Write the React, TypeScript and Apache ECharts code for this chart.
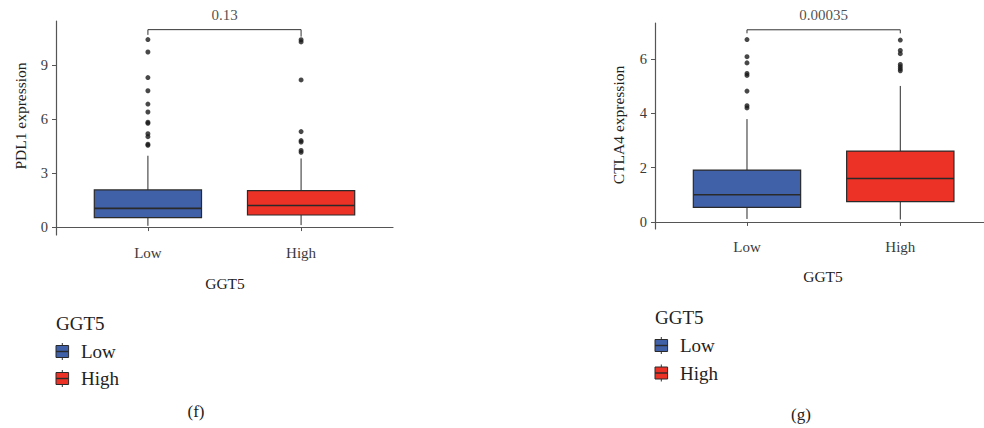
import React, { useEffect, useRef } from "react";
import * as echarts from "echarts";

// ---------- data ----------
const groups = ["Low", "High"];
const legendTitle = "GGT5";

// PDL1 panel (f): [min, Q1, median, Q3, max] per group
const pdl1Stats = [
  [0.07, 0.52, 1.04, 2.06, 3.96],
  [0.11, 0.67, 1.2, 2.02, 3.81],
];
const pdl1OutliersLow = [10.41, 9.72, 8.3, 7.57, 6.83, 6.39, 5.82, 5.76, 5.18, 5.02, 4.6, 4.54];
const pdl1OutliersHigh = [10.4, 10.28, 8.17, 5.3, 4.8, 4.72, 4.25, 4.15];
const pdl1PValue = "0.13";
const pdl1YTicks = [0, 3, 6, 9];

// CTLA4 panel (g)
const ctla4Stats = [
  [0.11, 0.54, 1.0, 1.91, 3.79],
  [0.09, 0.75, 1.6, 2.61, 5.01],
];
const ctla4OutliersLow = [6.72, 6.09, 5.86, 5.47, 5.4, 4.82, 4.28, 4.2];
const ctla4OutliersHigh = [6.7, 6.32, 6.2, 5.8, 5.72, 5.64, 5.57];
const ctla4PValue = "0.00035";
const ctla4YTicks = [0, 2, 4, 6];

const COLORS = ["#4060A8", "#EC3126"];
const FONT = "'Liberation Serif', 'Times New Roman', serif";
const AXIS_COLOR = "#555555";
const TEXT_COLOR = "#3a3a3a";
const BOX_STROKE = "#2a2a2a";

function boxRender(params: any, api: any) {
  const x = api.value(0);
  const w = api.size([1, 0])[0] * 0.7;
  const pMin = api.coord([x, api.value(1)]);
  const pQ1 = api.coord([x, api.value(2)]);
  const pMed = api.coord([x, api.value(3)]);
  const pQ3 = api.coord([x, api.value(4)]);
  const pMax = api.coord([x, api.value(5)]);
  const color = COLORS[params.dataIndex];
  return {
    type: "group",
    children: [
      { type: "line", shape: { x1: pMin[0], y1: pMin[1], x2: pQ1[0], y2: pQ1[1] }, style: { stroke: BOX_STROKE, lineWidth: 1 } },
      { type: "line", shape: { x1: pQ3[0], y1: pQ3[1], x2: pMax[0], y2: pMax[1] }, style: { stroke: BOX_STROKE, lineWidth: 1 } },
      {
        type: "rect",
        shape: { x: pQ3[0] - w / 2, y: pQ3[1], width: w, height: pQ1[1] - pQ3[1] },
        style: { fill: color, stroke: BOX_STROKE, lineWidth: 1.2 },
      },
      {
        type: "line",
        shape: { x1: pMed[0] - w / 2, y1: pMed[1], x2: pMed[0] + w / 2, y2: pMed[1] },
        style: { stroke: BOX_STROKE, lineWidth: 1.6 },
      },
    ],
  };
}

function panelSeries(
  gi: number,
  stats: number[][],
  outLow: number[],
  outHigh: number[],
  bracketTop: number,
  legL: number,
  legR: number,
  pval: string
) {
  return [
    {
      type: "custom",
      xAxisIndex: gi,
      yAxisIndex: gi,
      renderItem: boxRender,
      encode: { x: 0, y: [1, 2, 3, 4, 5] },
      data: stats.map((s, i) => [i + 1, ...s]),
      z: 2,
    },
    {
      type: "scatter",
      xAxisIndex: gi,
      yAxisIndex: gi,
      symbolSize: 5,
      itemStyle: { color: "#1a1a1a" },
      data: [...outLow.map((v) => [1, v]), ...outHigh.map((v) => [2, v])],
      z: 3,
    },
    {
      type: "line",
      xAxisIndex: gi,
      yAxisIndex: gi,
      symbol: "none",
      lineStyle: { color: "#333", width: 1 },
      data: [
        [1, legL],
        [1, bracketTop],
        [2, bracketTop],
        [2, legR],
      ],
      z: 3,
    },
    {
      type: "scatter",
      xAxisIndex: gi,
      yAxisIndex: gi,
      symbolSize: 0,
      data: [[1.5, bracketTop]],
      label: {
        show: true,
        position: "top",
        distance: 7,
        formatter: pval,
        fontFamily: FONT,
        fontSize: 15,
        color: "#222",
      },
      z: 3,
    },
  ];
}

function xAxisFor(gi: number, max: number) {
  return {
    type: "value",
    gridIndex: gi,
    min: 0.4,
    max,
    splitLine: { show: false },
    axisLine: { show: true, lineStyle: { color: AXIS_COLOR, width: 1.2 } },
    axisTick: { show: true, length: 4, customValues: [1, 2], lineStyle: { color: AXIS_COLOR } },
    axisLabel: {
      customValues: [1, 2],
      formatter: (v: number) => groups[Math.round(v) - 1],
      fontFamily: FONT,
      fontSize: 15,
      color: TEXT_COLOR,
      margin: 10,
    },
  };
}

function yAxisFor(gi: number, min: number, max: number, ticks: number[]) {
  return {
    type: "value",
    gridIndex: gi,
    min,
    max,
    splitLine: { show: false },
    axisLine: { show: true, onZero: false, lineStyle: { color: AXIS_COLOR, width: 1.2 } },
    axisTick: { show: true, length: 4, customValues: ticks, lineStyle: { color: AXIS_COLOR } },
    axisLabel: {
      customValues: ticks,
      fontFamily: FONT,
      fontSize: 14.5,
      color: TEXT_COLOR,
      margin: 8,
    },
  };
}

function legend(x: number, titleY: number, rowYs: number[]) {
  const els: any[] = [
    {
      type: "text",
      x,
      y: titleY,
      style: { text: legendTitle, font: `19px ${FONT}`, fill: "#222", textVerticalAlign: "middle" },
    },
  ];
  groups.forEach((g, i) => {
    const cy = rowYs[i];
    els.push(
      { type: "line", shape: { x1: x + 6.3, y1: cy - 8.5, x2: x + 6.3, y2: cy + 8.5 }, style: { stroke: "#333", lineWidth: 1 } },
      { type: "rect", shape: { x, y: cy - 6, width: 12.6, height: 12 }, style: { fill: COLORS[i], stroke: BOX_STROKE, lineWidth: 1 } },
      { type: "line", shape: { x1: x, y1: cy, x2: x + 12.6, y2: cy }, style: { stroke: BOX_STROKE, lineWidth: 1.4 } },
      {
        type: "text",
        x: x + 25,
        y: cy,
        style: { text: g, font: `19px ${FONT}`, fill: "#222", textVerticalAlign: "middle" },
      }
    );
  });
  return els;
}

function centeredText(text: string, x: number, y: number, size: number, rotate = 0) {
  return {
    type: "text",
    x,
    y,
    rotation: rotate,
    style: {
      text,
      font: `${size}px ${FONT}`,
      fill: "#222",
      textAlign: "center",
      textVerticalAlign: "middle",
    },
  };
}

export default function App() {
  const ref = useRef<HTMLDivElement>(null);
  useEffect(() => {
    document.body.style.margin = "0";
    if (!ref.current) return;
    const chart = echarts.init(ref.current, undefined, { renderer: "svg" });
    chart.setOption({
      animation: false,
      backgroundColor: "#ffffff",
      grid: [
        { left: 56, top: 21, width: 337, height: 214 },
        { left: 655, top: 23, width: 329, height: 206 },
      ],
      xAxis: [xAxisFor(0, 2.6), xAxisFor(1, 2.546)],
      yAxis: [yAxisFor(0, -0.44, 11.44, pdl1YTicks), yAxisFor(1, -0.26, 7.33, ctla4YTicks)],
      series: [
        ...panelSeries(0, pdl1Stats, pdl1OutliersLow, pdl1OutliersHigh, 10.96, 10.67, 10.57, pdl1PValue),
        ...panelSeries(1, ctla4Stats, ctla4OutliersLow, ctla4OutliersHigh, 7.08, 6.95, 6.95, ctla4PValue),
      ],
      graphic: [
        centeredText("PDL1 expression", 20, 116, 15.5, Math.PI / 2),
        centeredText("CTLA4 expression", 618, 125, 15.5, Math.PI / 2),
        centeredText("GGT5", 225, 283, 15.5),
        centeredText("GGT5", 823, 276, 15.5),
        ...legend(56, 323, [351.5, 378.5]),
        ...legend(655, 317, [345.5, 373]),
        centeredText("(f)", 196, 411, 17),
        centeredText("(g)", 801, 414, 17),
      ],
    });
    return () => chart.dispose();
  }, []);
  return <div ref={ref} style={{ width: 984, height: 428 }} />;
}
